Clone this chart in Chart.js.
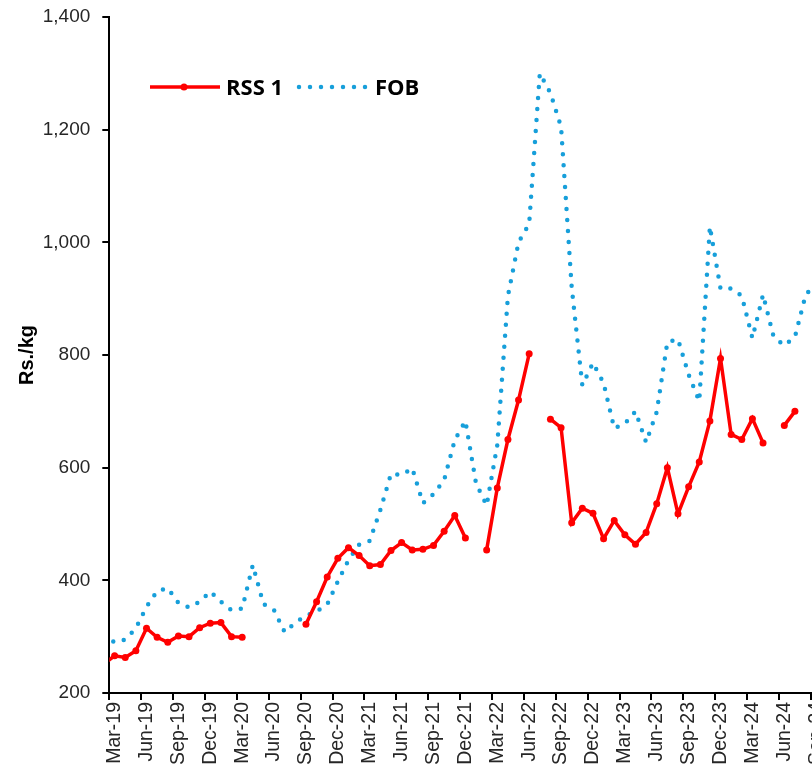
<!DOCTYPE html>
<html>
<head>
<meta charset="utf-8">
<script src="https://cdn.jsdelivr.net/npm/chart.js@4.4.1/dist/chart.umd.min.js"></script>
<style>
  html, body { margin: 0; padding: 0; background: #fff; overflow: hidden; }
  #wrap { width: 830px; height: 774px; }
</style>
</head>
<body>
<div id="wrap"><canvas id="rss_fob_chart" width="830" height="774"></canvas></div>
<script>
// monthly categories, Feb-19 sits just left of the axis and is clipped
const month_labels = [
  'Feb-19','Mar-19','Apr-19','May-19','Jun-19','Jul-19','Aug-19','Sep-19','Oct-19','Nov-19','Dec-19',
  'Jan-20','Feb-20','Mar-20','Apr-20','May-20','Jun-20','Jul-20','Aug-20','Sep-20','Oct-20','Nov-20','Dec-20',
  'Jan-21','Feb-21','Mar-21','Apr-21','May-21','Jun-21','Jul-21','Aug-21','Sep-21','Oct-21','Nov-21','Dec-21',
  'Jan-22','Feb-22','Mar-22','Apr-22','May-22','Jun-22','Jul-22','Aug-22','Sep-22','Oct-22','Nov-22','Dec-22',
  'Jan-23','Feb-23','Mar-23','Apr-23','May-23','Jun-23','Jul-23','Aug-23','Sep-23','Oct-23','Nov-23','Dec-23',
  'Jan-24','Feb-24','Mar-24','Apr-24','May-24','Jun-24','Jul-24','Aug-24','Sep-24'
];

// RSS 1 price, Rs./kg (null = no quote)
const rss1_values = [
  252, 266, 263, 275, 315, 299, 290, 301, 300, 316, 324,
  325, 300, 299, null, null, null, null, null, 322, 362, 406, 439,
  458, 444, 426, 428, 453, 467, 454, 455, 462, 487, 515, 475,
  null, 454, 564, 650, 720, 802, null, 686, 671, 502, 528, 519,
  474, 506, 481, 464, 485, 536, 600, 518, 566, 610, 683, 794,
  659, 650, 687, 644, null, 675, 700, null, null
];

// FOB price, Rs./kg
const fob_values = [
  302, 290, 295, 315, 353, 381, 386, 360, 352, 362, 380,
  362, 347, 350, 427, 358, 347, 308, 325, 337, 345, 357, 398,
  436, 463, 470, 525, 589, 587, 599, 537, 553, 578, 649, 683,
  572, 533, 640, 905, 1000, 1033, 1300, 1265, 1205, 920, 746, 786,
  750, 670, 678, 700, 645, 699, 823, 828, 765, 718, 1028, 918,
  918, 905, 830, 907, 832, 817, 832, 906, 930
];

const y_min = 200
const y_max = 1400
const y_step = 200

const rss_color = '#FF0000'
const fob_color = '#179FDA'
const tick_color = '#262626'

// every third month gets a label and a tick mark (Mar, Jun, Sep, Dec)
function is_quarter(value){
  return (value - 1) % 3 === 0
}

// legend drawn inside the plot, like the original
const inner_legend = {
  id: 'inner_legend',
  afterDraw(chart){
    const ctx = chart.ctx
    ctx.save()
    ctx.lineCap = 'butt'
    ctx.strokeStyle = rss_color
    ctx.lineWidth = 3.5
    ctx.beginPath()
    ctx.moveTo(150, 87)
    ctx.lineTo(220, 87)
    ctx.stroke()
    ctx.fillStyle = rss_color
    ctx.beginPath()
    ctx.arc(184, 87, 3.5, 0, Math.PI * 2)
    ctx.fill()

    ctx.strokeStyle = fob_color
    ctx.lineWidth = 4.5
    ctx.lineCap = 'round'
    ctx.setLineDash([0, 11])
    ctx.beginPath()
    ctx.moveTo(299, 87)
    ctx.lineTo(370, 87)
    ctx.stroke()
    ctx.setLineDash([])

    ctx.fillStyle = '#000'
    ctx.font = 'bold 22px "Open Sans"'
    ctx.textBaseline = 'alphabetic'
    ctx.fillText('RSS 1', 226, 95)
    ctx.fillText('FOB', 375, 95)
    ctx.restore()
  }
}

const ctx = document.getElementById('rss_fob_chart').getContext('2d');

const rss_fob_chart = new Chart(ctx, {
  type: 'line',
  data: {
    labels: month_labels,
    datasets: [
      {
        label: 'RSS 1',
        data: rss1_values,
        borderColor: rss_color,
        backgroundColor: rss_color,
        borderWidth: 3.5,
        pointRadius: 3.5,
        pointBorderWidth: 0,
        pointBackgroundColor: rss_color,
        spanGaps: false,
        tension: 0,
        order: 1
      },
      {
        label: 'FOB',
        data: fob_values,
        borderColor: fob_color,
        borderWidth: 4.5,
        borderDash: [0, 11],
        borderCapStyle: 'round',
        pointRadius: 0,
        tension: 0,
        order: 2
      }
    ]
  },
  options: {
    responsive: false,
    animation: false,
    devicePixelRatio: 1,
    layout: { padding: { top: 17, right: 8.5, bottom: 0, left: 15.6 } },
    plugins: {
      legend: { display: false },
      tooltip: { enabled: false }
    },
    scales: {
      x: {
        type: 'category',
        min: 'Mar-19',
        max: 'Sep-24',
        offset: true,
        grid: {
          offset: true,
          drawOnChartArea: false,
          tickLength: 7,
          lineWidth: 2,
          color: c => (c.tick && is_quarter(c.tick.value)) ? '#000' : 'rgba(0,0,0,0)'
        },
        border: { color: '#000', width: 2 },
        ticks: {
          autoSkip: false,
          minRotation: 90,
          maxRotation: 90,
          padding: 2,
          color: tick_color,
          font: { family: '"Liberation Sans", Arial, sans-serif', size: 19.5 },
          callback: function(value){
            return is_quarter(value) ? this.getLabelForValue(value) : ''
          }
        },
        afterFit: s => { s.height = 81; s.paddingLeft = 0; s.paddingRight = 0 }
      },
      y: {
        min: y_min,
        max: y_max,
        grid: {
          drawOnChartArea: false,
          tickLength: 7,
          lineWidth: 2,
          color: '#000'
        },
        border: { color: '#000', width: 2 },
        ticks: {
          stepSize: y_step,
          padding: 12,
          color: tick_color,
          font: { family: '"Liberation Sans", Arial, sans-serif', size: 19 },
          callback: v => v.toLocaleString('en-US')
        },
        title: {
          display: true,
          text: 'Rs./kg',
          color: '#000',
          padding: 0,
          font: { family: '"Liberation Sans", Arial, sans-serif', weight: 'bold', size: 20 }
        },
        afterFit: s => { s.width = 93.7; s.paddingTop = 0; s.paddingBottom = 0 }
      }
    }
  },
  plugins: [inner_legend]
});
</script>
</body>
</html>
